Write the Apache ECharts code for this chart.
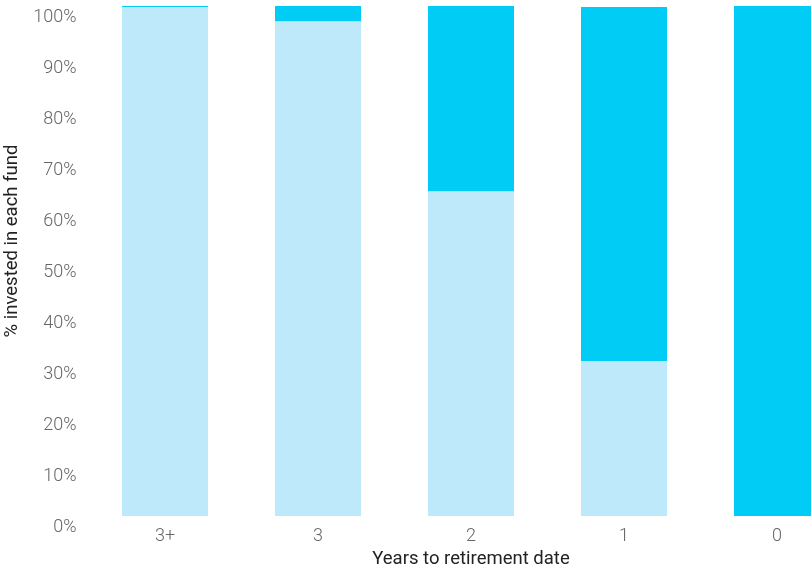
<!DOCTYPE html>
<html lang="en">
<head>
    <meta charset="UTF-8">
    <title>funds</title>
    <script src="https://cdn.jsdelivr.net/npm/echarts@6/dist/echarts.min.js"></script>
</head>
<body style="margin:0">
    <div id="main" style="width: 811px;height: 569px;"></div>
    <script>
        var years = ['3+', '3', '2', '1', '0']
        var lightFund = [99.8, 97, 63.7, 30.4, 0]
        var darkFund = [0.2, 3, 36.3, 69.4, 100]

        var myChart = echarts.init(document.getElementById('main'))
        var option = {
            animation: false,
            textStyle: { fontFamily: 'Roboto' },
            // last bar runs past the right edge, so the grid does too
            grid: { left: 88.5, right: -42.5, top: 6, bottom: 53, containLabel: false, outerBoundsMode: 'none' },
            xAxis: {
                type: 'category',
                data: years,
                name: 'Years to retirement date',
                nameLocation: 'middle',
                nameGap: 33,
                nameTextStyle: { color: '#222', fontSize: 18.5 },
                axisLine: { show: false },
                axisTick: { show: false },
                axisLabel: { color: '#666', fontSize: 18, fontWeight: 300, margin: 11 }
            },
            yAxis: {
                type: 'value',
                min: 0,
                max: 100,
                interval: 10,
                name: '% invested in each fund',
                nameLocation: 'middle',
                nameGap: 63,
                nameTextStyle: { color: '#222', fontSize: 18.5, padding: [0, 0, 0, 40] },
                splitLine: { show: false },
                axisLine: { show: false },
                axisTick: { show: false },
                axisLabel: {
                    color: '#666', fontSize: 18, fontWeight: 300, margin: 12,
                    verticalAlign: 'top', lineHeight: 23,
                    formatter: '{value}%'
                }
            },
            series: [
                {
                    name: 'light',
                    type: 'bar',
                    stack: 'fund',
                    barWidth: 86,
                    itemStyle: { color: '#bde9fa' },
                    data: lightFund
                },
                {
                    name: 'dark',
                    type: 'bar',
                    stack: 'fund',
                    barWidth: 86,
                    itemStyle: { color: '#00ccf5' },
                    data: darkFund
                }
            ]
        }
        myChart.setOption(option)
    </script>
</body>
</html>
